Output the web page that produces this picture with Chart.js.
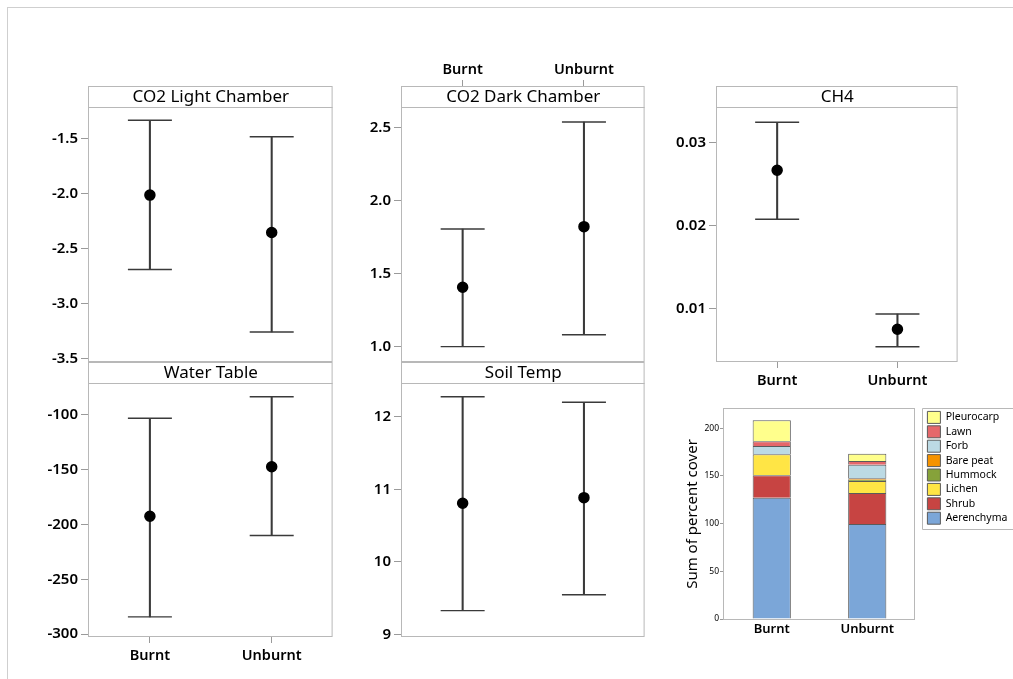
<!DOCTYPE html>
<html><head><meta charset="utf-8">
<script src="https://cdn.jsdelivr.net/npm/chart.js@4.4.1/dist/chart.umd.min.js"></script>
<style>
html,body{margin:0;padding:0;background:#fff;}
body{width:1013px;height:679px;position:relative;overflow:hidden;}
#frame{position:absolute;left:7px;top:7px;width:1020px;height:700px;border-top:1px solid #cfcfcf;border-left:1px solid #cfcfcf;}
canvas{position:absolute;}
</style></head><body>
<div id="frame"></div>
<canvas id="cLight"></canvas>
<canvas id="cDark"></canvas>
<canvas id="cCH4"></canvas>
<canvas id="cWater"></canvas>
<canvas id="cSoil"></canvas>
<canvas id="cCover"></canvas>
<script>
// ---------- data ----------
const groups = ['Burnt', 'Unburnt'];

const co2LightMean = [-2.015, -2.355];
const co2LightLow  = [-2.69, -3.258];
const co2LightHigh = [-1.336, -1.485];
const co2LightTicks = [-1.5, -2.0, -2.5, -3.0, -3.5];

const co2DarkMean = [1.407, 1.822];
const co2DarkLow  = [1.0, 1.082];
const co2DarkHigh = [1.806, 2.539];
const co2DarkTicks = [1.0, 1.5, 2.0, 2.5];

const ch4Mean = [0.02663, 0.00747];
const ch4Low  = [0.02072, 0.00537];
const ch4High = [0.03241, 0.00931];
const ch4Ticks = [0.01, 0.02, 0.03];

const waterMean = [-192.4, -147.3];
const waterLow  = [-284.3, -210];
const waterHigh = [-103, -83.3];
const waterTicks = [-100, -150, -200, -250, -300];

const soilMean = [10.807, 10.884];
const soilLow  = [9.326, 9.546];
const soilHigh = [12.276, 12.2];
const soilTicks = [9, 10, 11, 12];

const coverGroups = ['Burnt', 'Unburnt'];
const aerenchyma = [127, 99.5];
const shrub      = [23.5, 32.5];
const lichen     = [22, 12.5];
const hummock    = [0, 1.5];
const barePeat   = [0, 1.5];
const forb       = [8.7, 14];
const lawn       = [5, 4];
const pleurocarp = [22, 7.5];
const coverTicks = [0, 50, 100, 150, 200];

// ---------- drawing ----------
const FONT = '"Noto Sans", "Open Sans", sans-serif';
const WHISK = '#3a3a3a';
const FRAME = '#b8b8b8';
const TICKC = '#9a9a9a';
const TXT = '#000';
const SEMI = '600';

const stripPlugin = {
  id: 'strip',
  afterDraw(chart, args, opts) {
    const {ctx, chartArea: a} = chart;
    const w = a.right - a.left, h = a.bottom - a.top;
    ctx.save();
    ctx.lineWidth = 1;
    ctx.strokeStyle = FRAME;
    const st = a.top - opts.height;
    ctx.fillStyle = '#fff';
    ctx.fillRect(a.left - 1, st - 1, w + 1, opts.height);
    ctx.strokeRect(a.left - 0.5, st - 0.5, w, opts.height);
    ctx.strokeRect(a.left - 0.5, a.top - 0.5, w, h);
    ctx.fillStyle = TXT;
    ctx.font = '17px ' + FONT;
    ctx.textAlign = 'center';
    ctx.textBaseline = 'middle';
    ctx.fillText(opts.text, (a.left + a.right) / 2, st + opts.height / 2);
    ctx.restore();
  }
};

function place(cv, x, y, w, h) {
  cv.width = w; cv.height = h;
  cv.style.left = x + 'px'; cv.style.top = y + 'px';
  cv.style.width = w + 'px'; cv.style.height = h + 'px';
}

function intervalPanel(id, s) {
  const cv = document.getElementById(id);
  const cx = s.left - 75, cy = s.top - 60;
  const cw = s.right - cx + 3, ch = s.bottom + 35 - cy;
  place(cv, cx, cy, cw, ch);
  const xPos = s.xPos;
  new Chart(cv, {
    type: 'bar',
    data: {
      labels: groups,
      datasets: [
        {type: 'line', label: 'Mean', data: s.mean, showLine: false, pointStyle: 'circle',
         pointRadius: 5, pointBorderWidth: 1.5, pointBackgroundColor: '#000', pointBorderColor: '#000', order: 0},
        {type: 'line', label: 'Upper', data: s.high, showLine: false, pointStyle: 'line',
         pointRadius: 22, pointBorderWidth: 1.4, pointBorderColor: WHISK, order: 1},
        {type: 'line', label: 'Lower', data: s.low, showLine: false, pointStyle: 'line',
         pointRadius: 22, pointBorderWidth: 1.4, pointBorderColor: WHISK, order: 1},
        {type: 'bar', label: 'Interval', data: s.low.map((v, i) => [v, s.high[i]]),
         backgroundColor: WHISK, barThickness: 1.4, order: 2}
      ]
    },
    options: {
      responsive: false, animation: false, events: [], devicePixelRatio: 1,
      layout: {padding: {left: 5, right: 3, top: xPos === 'top' ? 0 : 60, bottom: xPos === 'bottom' ? 0 : 35}},
      plugins: {legend: {display: false}, tooltip: {enabled: false},
        strip: {text: s.title, height: 21}},
      scales: {
        x: {
          display: !!xPos, position: xPos || 'bottom',
          afterFit: sc => { if (xPos) sc.height = xPos === 'top' ? 60 : 35; },
          ticks: {font: {family: FONT, size: 14.5, weight: SEMI}, color: TXT, padding: xPos === 'top' ? 1 : 4},
          grid: {display: true, drawOnChartArea: false, drawTicks: true, offset: false,
                 tickLength: xPos === 'top' ? 28 : 6, color: TICKC},
          border: {display: false}
        },
        y: {
          min: s.min, max: s.max,
          afterFit: sc => { sc.width = 70; },
          afterBuildTicks: sc => { sc.ticks = s.ticks.map(v => ({value: v})); },
          ticks: {font: {family: FONT, size: 15, weight: SEMI}, color: TXT, padding: 3,
                  callback: v => Number(v).toFixed(s.digits)},
          grid: {display: true, drawOnChartArea: false, drawTicks: true, tickLength: 8, color: TICKC},
          border: {display: false}
        }
      }
    },
    plugins: [stripPlugin]
  });
}

intervalPanel('cLight', {left: 89, right: 353, top: 108, bottom: 362, title: 'CO2 Light Chamber',
  mean: co2LightMean, low: co2LightLow, high: co2LightHigh, ticks: co2LightTicks,
  min: -3.53, max: -1.2245, digits: 1, xPos: null});
intervalPanel('cDark', {left: 402, right: 665, top: 108, bottom: 362, title: 'CO2 Dark Chamber',
  mean: co2DarkMean, low: co2DarkLow, high: co2DarkHigh, ticks: co2DarkTicks,
  min: 0.895, max: 2.635, digits: 1, xPos: 'top'});
intervalPanel('cCH4', {left: 717, right: 978, top: 108, bottom: 362, title: 'CH4',
  mean: ch4Mean, low: ch4Low, high: ch4High, ticks: ch4Ticks,
  min: 0.00353, max: 0.03413, digits: 2, xPos: 'bottom'});
intervalPanel('cWater', {left: 89, right: 353, top: 384, bottom: 637, title: 'Water Table',
  mean: waterMean, low: waterLow, high: waterHigh, ticks: waterTicks,
  min: -302.7, max: -71.7, digits: 0, xPos: 'bottom'});
intervalPanel('cSoil', {left: 402, right: 665, top: 384, bottom: 637, title: 'Soil Temp',
  mean: soilMean, low: soilLow, high: soilHigh, ticks: soilTicks,
  min: 8.963, max: 12.451, digits: 0, xPos: null});

// ---------- stacked cover chart ----------
const coverFrame = {
  id: 'coverFrame',
  afterDraw(chart) {
    const {ctx, chartArea: a, legend} = chart;
    ctx.save();
    ctx.lineWidth = 1;
    ctx.strokeStyle = FRAME;
    ctx.strokeRect(a.left - 0.5, a.top - 0.5, a.right - a.left, a.bottom - a.top + 1);
    const hb = legend.legendHitBoxes;
    if (hb && hb.length) {
      const lx = Math.round(hb[0].left) - 4.5;
      const last = hb[hb.length - 1];
      const bottom = Math.round(last.top + last.height) + 5.5;
      const top = a.top - 0.5;
      const rx = chart.width + 5;
      ctx.beginPath();
      ctx.moveTo(rx, top); ctx.lineTo(lx, top); ctx.lineTo(lx, bottom); ctx.lineTo(rx, bottom);
      ctx.stroke();
    }
    ctx.restore();
  }
};

const cv = document.getElementById('cCover');
place(cv, 670, 400, 343, 239);
const border = '#5a5a5a';
function ds(label, data, color) {
  return {label, data, backgroundColor: color, borderColor: border, borderWidth: 1,
          barPercentage: 0.8, categoryPercentage: 0.5};
}
new Chart(cv, {
  type: 'bar',
  data: {
    labels: coverGroups,
    datasets: [
      ds('Aerenchyma', aerenchyma, '#7ba6d8'),
      ds('Shrub', shrub, '#c74442'),
      ds('Lichen', lichen, '#ffe545'),
      ds('Hummock', hummock, '#86a23a'),
      ds('Bare peat', barePeat, '#f59300'),
      ds('Forb', forb, '#bcdae4'),
      ds('Lawn', lawn, '#e5676a'),
      ds('Pleurocarp', pleurocarp, '#ffff8c')
    ]
  },
  options: {
    responsive: false, animation: false, events: [], devicePixelRatio: 1,
    layout: {padding: {left: 14, right: 0, top: 9, bottom: 0}},
    plugins: {
      tooltip: {enabled: false},
      legend: {
        position: 'right', align: 'start', reverse: true, maxWidth: 88,
        labels: {boxWidth: 13, boxHeight: 12, padding: 2.4, color: TXT,
                 font: {family: FONT, size: 10.5}}
      }
    },
    scales: {
      x: {
        stacked: true,
        afterFit: sc => { sc.height = 20; },
        ticks: {font: {family: FONT, size: 13, weight: SEMI}, color: TXT, padding: 2.5},
        grid: {display: false, drawTicks: false},
        border: {display: false}
      },
      y: {
        stacked: true, min: 0, max: 220,
        afterFit: sc => { sc.width = 40; },
        afterBuildTicks: sc => { sc.ticks = coverTicks.map(v => ({value: v})); },
        title: {display: true, text: 'Sum of percent cover', color: TXT,
                font: {family: FONT, size: 15}, padding: {top: 0, bottom: 0}},
        ticks: {font: {family: FONT, size: 8.5}, color: TXT, padding: 1},
        grid: {display: true, drawOnChartArea: false, drawTicks: true, tickLength: 4, color: TICKC},
        border: {display: false}
      },
      gap: {
        type: 'linear', position: 'right', display: true,
        afterFit: sc => { sc.width = 10; },
        ticks: {display: false}, grid: {display: false}, border: {display: false}
      }
    }
  },
  plugins: [coverFrame]
});
</script>
</body></html>
